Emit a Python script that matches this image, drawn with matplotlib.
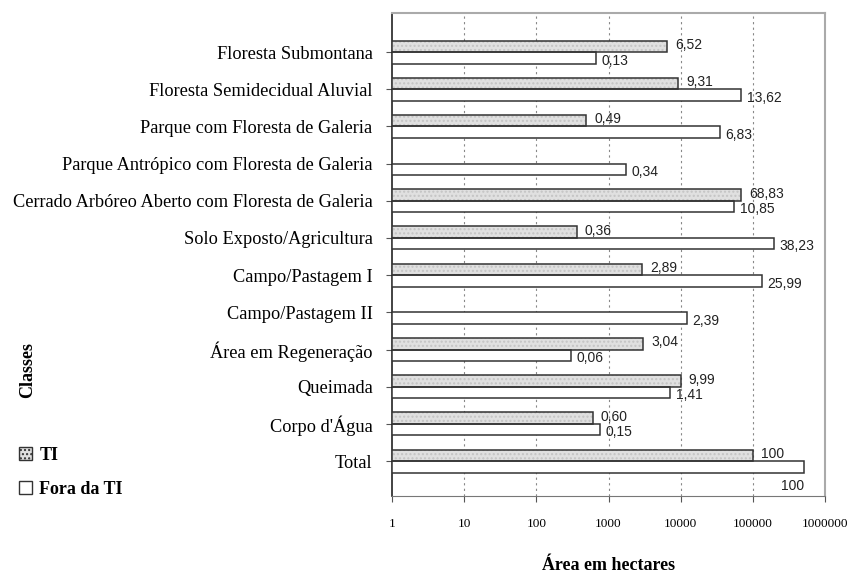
import matplotlib
matplotlib.use("Agg")
import matplotlib.pyplot as plt
from matplotlib.patches import Patch
import numpy as np

categories = [
    "Floresta Submontana",
    "Floresta Semidecidual Aluvial",
    "Parque com Floresta de Galeria",
    "Parque Antrópico com Floresta de Galeria",
    "Cerrado Arbóreo Aberto com Floresta de Galeria",
    "Solo Exposto/Agricultura",
    "Campo/Pastagem I",
    "Campo/Pastagem II",
    "Área em Regeneração",
    "Queimada",
    "Corpo d'Água",
    "Total",
]

# Area in hectares (read from the log axis); None = no bar
ti_area = [6500, 9300, 490, None, 68500, 360, 2880, None, 3000, 9950, 600, 99600]
fora_area = [680, 69500, 34800, 1730, 55300, 195000, 132500, 12200, 306, 7190, 765, 510000]

# Percentage labels
ti_labels = ["6,52", "9,31", "0,49", None, "68,83", "0,36", "2,89", None, "3,04", "9,99", "0,60", "100"]
fora_labels = ["0,13", "13,62", "6,83", "0,34", "10,85", "38,23", "25,99", "2,39", "0,06", "1,41", "0,15", "100"]

x_ticks = [1, 10, 100, 1000, 10000, 100000, 1000000]
x_tick_labels = ["1", "10", "100", "1000", "10000", "100000", "1000000"]

serif = ["Liberation Serif", "DejaVu Serif"]
sans = ["Liberation Sans", "DejaVu Sans"]

fig = plt.figure(figsize=(8.5, 5.74), dpi=100)
ax = fig.add_axes([392/850, 1 - 496/574, (825 - 392)/850, (496 - 13)/574])

y = np.arange(len(categories))
h = 0.31
ti_col = "#e0e0e0"
hatch_col = "#c4c4c4"
edge = "#333333"

for i in range(len(categories)):
    if ti_area[i] is not None:
        ax.barh(y[i] - h/2, ti_area[i], height=h, left=1, color=ti_col,
                edgecolor=hatch_col, linewidth=0, hatch="....", zorder=3)
        ax.barh(y[i] - h/2, ti_area[i], height=h, left=1, fill=False,
                edgecolor=edge, linewidth=1.1, zorder=4)
    if fora_area[i] is not None:
        ax.barh(y[i] + h/2, fora_area[i], height=h, left=1, color="white",
                edgecolor=edge, linewidth=1.1, zorder=3)

for i in range(len(categories)):
    if ti_labels[i] is not None:
        ax.annotate(ti_labels[i], (ti_area[i], y[i] - h/2), xytext=(6, 1),
                    textcoords="offset points", va="center", ha="left",
                    fontsize=10, family=sans, color="#222222")
    if fora_labels[i] is not None:
        if i == len(categories) - 1:
            ax.annotate(fora_labels[i], (fora_area[i], y[i] + h/2), xytext=(-8, -14),
                        textcoords="offset points", va="center", ha="center",
                        fontsize=10, family=sans, color="#222222")
        else:
            ax.annotate(fora_labels[i], (fora_area[i], y[i] + h/2), xytext=(4, -2),
                        textcoords="offset points", va="center", ha="left",
                        fontsize=10, family=sans, color="#222222")

ax.set_xscale("log")
ax.set_xlim(1, 1000000)
ax.set_ylim(11.94, -1.05)
ax.set_xticks(x_ticks)
ax.set_xticklabels(x_tick_labels, family=serif, fontsize=9.5)
ax.xaxis.set_minor_locator(matplotlib.ticker.NullLocator())
ax.set_yticks(y)
ax.set_yticklabels(categories, family=serif, fontsize=13.2)
ax.tick_params(axis="x", direction="out", length=4, pad=12, color="#555555")
ax.tick_params(axis="y", direction="out", length=4, pad=10, color="#555555")

for xv in x_ticks[1:-1]:
    ax.axvline(xv, color="#888888", linestyle=(0, (2, 3)), linewidth=0.8, zorder=1)

ax.spines["left"].set_color("#222222")
ax.spines["left"].set_linewidth(1.2)
ax.spines["bottom"].set_color("#777777")
ax.spines["top"].set_color("#aaaaaa")
ax.spines["right"].set_color("#aaaaaa")
ax.spines["top"].set_linewidth(1.5)
ax.spines["right"].set_linewidth(1.5)

ax.set_xlabel("Área em hectares", family=serif, fontsize=13, fontweight="bold")
ax.xaxis.set_label_coords(0.5, (496 - 565) / 483)
ax.xaxis.label.set_va("center")
fig.text(28/850, 1 - 370/574, "Classes", rotation=90, ha="center", va="center",
         family=serif, fontsize=13, fontweight="bold")

handles = [Patch(facecolor=ti_col, edgecolor=edge, hatch="...."),
           Patch(facecolor="white", edgecolor=edge)]
fig.legend(handles, ["TI", "Fora da TI"], loc="upper left",
           bbox_to_anchor=(6/850, 1 - 434/574), frameon=False,
           prop={"family": serif, "size": 13, "weight": "bold"},
           handlelength=0.75, handleheight=0.75, handletextpad=0.4,
           labelspacing=0.95, borderpad=0.2)

fig.savefig("out.png", dpi=100)
